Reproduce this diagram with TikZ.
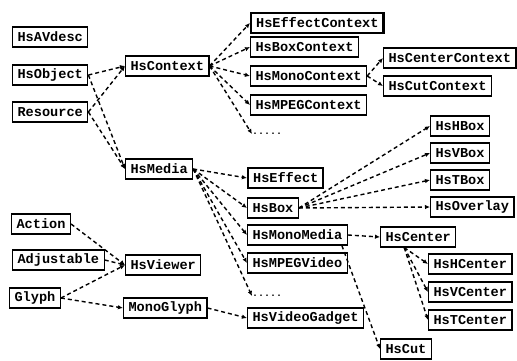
\documentclass[tikz,border=0pt]{standalone}
\usepackage{fontspec}
\setmonofont{Liberation Mono}
\usetikzlibrary{arrows.meta}

\begin{document}
\begin{tikzpicture}[
  x=1pt, y=-1pt,
  cls/.style={
    draw, line width=1.1pt, anchor=west,
    minimum height=20pt,
    inner xsep=5pt, inner ysep=0pt,
    font=\ttfamily\bfseries\fontsize{13.6}{15}\selectfont
  },
  hot/.style={cls, line width=2.2pt},
  more/.style={anchor=west, inner sep=0pt, font=\ttfamily\bfseries\fontsize{10}{12}\selectfont},
  isa/.style={dashed, dash pattern=on 4pt off 3pt, line width=1.4pt,
    -{Latex[length=5pt,width=4.5pt]}}
]
\useasboundingbox (0,0) rectangle (517,361);

% --- roots ---
\node[cls] (avdesc)   at (12,37)  {HsAVdesc};
\node[cls] (object)   at (12,75)  {HsObject};
\node[cls] (resource) at (12,112) {Resource};

\node[cls] (context) at (125,66)  {HsContext};
\node[cls] (media)   at (125,169) {HsMedia};

% --- contexts ---
\node[hot] (effctx)  at (250,23)  {HsEffectContext};
\node[cls] (boxctx)  at (250,47)  {HsBoxContext};
\node[cls] (monoctx) at (250,76)  {HsMonoContext};
\node[cls] (mpegctx) at (250,105) {HsMPEGContext};
\node[more] (ctxdots) at (252,134) {.....};

\node[cls] (centerctx) at (383,58) {HsCenterContext};
\node[cls] (cutctx)    at (383,86) {HsCutContext};

% --- media ---
\node[hot] (effect)      at (247,178) {HsEffect};
\node[cls] (box)         at (247,208) {HsBox};
\node[cls] (monomedia)   at (247,235) {HsMonoMedia};
\node[cls] (mpegvideo)   at (247,263) {HsMPEGVideo};
\node[more] (mediadots)  at (252,296) {.....};
\node[cls] (videogadget) at (247,318) {HsVideoGadget};

\node[cls] (hbox)    at (430,126) {HsHBox};
\node[cls] (vbox)    at (430,153) {HsVBox};
\node[cls] (tbox)    at (430,180) {HsTBox};
\node[cls] (overlay) at (430,207) {HsOverlay};

\node[cls] (center)  at (380,237) {HsCenter};
\node[cls] (hcenter) at (428,264) {HsHCenter};
\node[cls] (vcenter) at (428,292) {HsVCenter};
\node[cls] (tcenter) at (428,320) {HsTCenter};
\node[cls] (cut)     at (380,349) {HsCut};

% --- viewer side ---
\node[cls] (action)     at (11,224) {Action};
\node[cls] (adjustable) at (12,260) {Adjustable};
\node[cls] (glyph)      at (9,298)  {Glyph};
\node[cls] (viewer)     at (125,265) {HsViewer};
\node[cls] (monoglyph)  at (123,308) {MonoGlyph};

% --- inheritance ---
\foreach \p in {object,resource} {
  \draw[isa] (\p.east) -- (context.west);
  \draw[isa] (\p.east) -- (media.west);
}
\foreach \c in {effctx,boxctx,monoctx,mpegctx,ctxdots}
  \draw[isa] (context.east) -- (\c.west);
\foreach \c in {centerctx,cutctx}
  \draw[isa] (monoctx.east) -- (\c.west);
\foreach \c in {effect,box,monomedia,mpegvideo,mediadots}
  \draw[isa] (media.east) -- (\c.west);
\foreach \c in {hbox,vbox,tbox,overlay}
  \draw[isa] (box.east) -- (\c.west);
\draw[isa] (monomedia.east) -- (center.west);
\draw[isa] ([xshift=-6pt]monomedia.south east) -- (cut.west);
\foreach \c in {hcenter,vcenter,tcenter}
  \draw[isa] ([xshift=-14pt]center.south) -- (\c.west);
\foreach \p in {action,adjustable,glyph}
  \draw[isa] (\p.east) -- (viewer.west);
\draw[isa] (glyph.east) -- (monoglyph.west);
\draw[isa] (monoglyph.east) -- (videogadget.west);

\end{tikzpicture}
\end{document}
